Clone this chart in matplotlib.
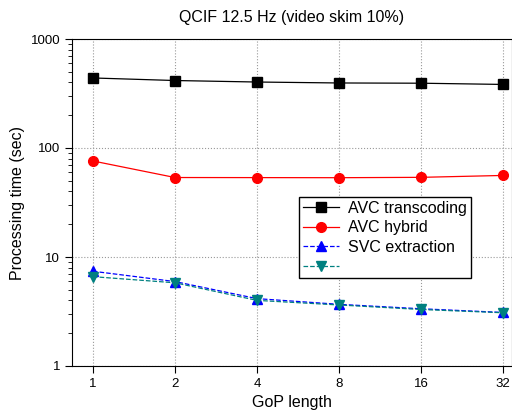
import numpy as np
from matplotlib import pyplot as plt

plt.rcParams['font.family'] = ['Liberation Sans', 'DejaVu Sans']

gop = ['1', '2', '4', '8', '16', '32']
avc_transcoding = [439, 416, 403, 395, 393, 383]
avc_hybrid = [76, 53.6, 53.5, 53.4, 53.8, 56]
svc_extraction = [7.4, 5.95, 4.15, 3.68, 3.35, 3.1]
svc_other = [6.6, 5.8, 4.0, 3.63, 3.3, 3.08]

fig = plt.figure(figsize=(5.12, 4.17), dpi=100)
ax = fig.add_axes([72 / 512, 51 / 417, 440 / 512, 327 / 417])
x = np.arange(len(gop))

ax.plot(x, avc_transcoding, '-s', color='black', lw=0.9, ms=6.5, label='AVC transcoding')
ax.plot(x, avc_hybrid, '-o', color='red', lw=0.9, ms=7, label='AVC hybrid')
ax.plot(x, svc_extraction, '--^', color='blue', lw=0.9, ms=7, label='SVC extraction')
ax.plot(x, svc_other, '--v', color='#008080', lw=0.9, ms=7, label=' ')

ax.set_yscale('log')
ax.set_ylim(1, 1000)
ax.set_xlim(-0.256, 5.11)
ax.set_xticks(x)
ax.set_xticklabels(gop)
ax.set_yticks([1, 10, 100, 1000])
ax.set_yticklabels(['1', '10', '100', '1000'])
ax.tick_params(axis='both', which='major', direction='out', length=5, labelsize=9.5)
ax.tick_params(axis='y', which='minor', direction='out', length=3)
ax.grid(True, which='major', linestyle=':', color='#999999', lw=0.8)

ax.set_title('QCIF 12.5 Hz (video skim 10%)', fontsize=11.5, pad=12)
ax.set_xlabel('GoP length', fontsize=11.5)
ax.set_ylabel('Processing time (sec)', fontsize=11.5)

leg = ax.legend(loc='upper left', bbox_to_anchor=(0.517, 0.517), fontsize=11.5,
                fancybox=False, edgecolor='black', framealpha=1,
                handlelength=2.2, handletextpad=0.6, borderpad=0.25,
                labelspacing=0.28, borderaxespad=0)
leg.get_frame().set_linewidth(1.0)

fig.savefig('out.png', dpi=100)
